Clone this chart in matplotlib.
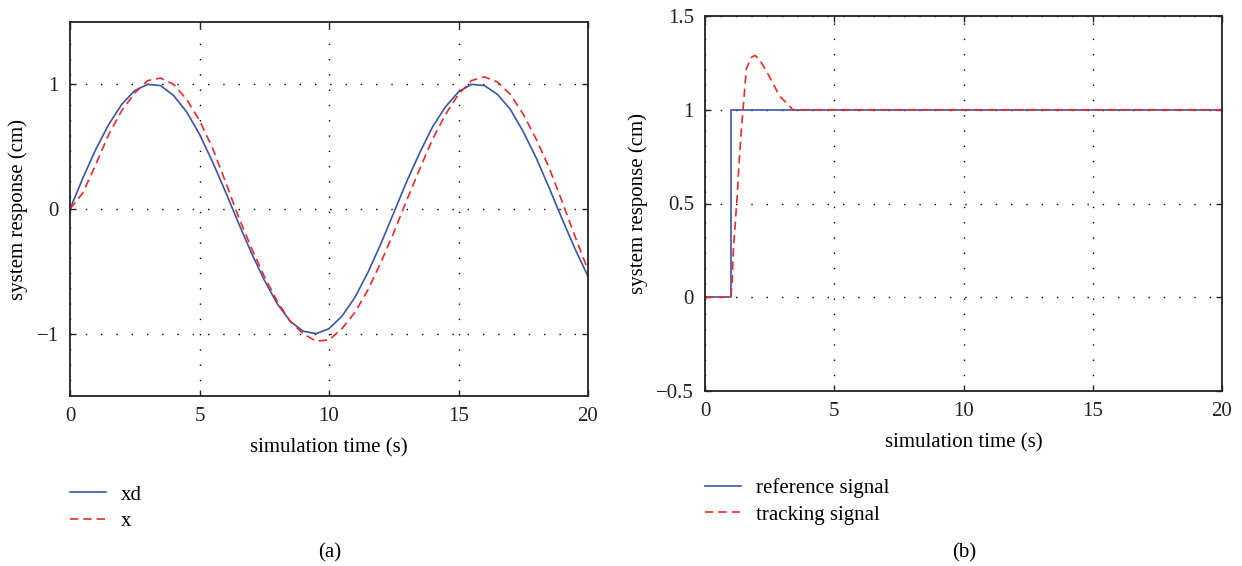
import matplotlib
matplotlib.use("Agg")
import matplotlib.pyplot as plt

plt.rcParams['font.family'] = ['Liberation Serif', 'DejaVu Serif']
plt.rcParams['axes.unicode_minus'] = True

# ---- panel (a) data: sinusoidal tracking ----
t_a = [0, 0.5, 1, 1.5, 2, 2.5, 3, 3.5, 4, 4.5, 5, 5.5, 6, 6.5, 7, 7.5, 8, 8.5, 9, 9.5,
       10, 10.5, 11, 11.5, 12, 12.5, 13, 13.5, 14, 14.5, 15, 15.5, 16, 16.5, 17, 17.5,
       18, 18.5, 19, 19.5, 20]
xd_vals = [0.0, 0.25, 0.48, 0.68, 0.84, 0.95, 1.0, 0.99, 0.91, 0.78, 0.6, 0.38, 0.14,
           -0.11, -0.35, -0.57, -0.76, -0.9, -0.98, -1.0, -0.96, -0.86, -0.71, -0.51,
           -0.28, -0.03, 0.22, 0.45, 0.66, 0.82, 0.94, 1.0, 0.99, 0.92, 0.8, 0.62, 0.41,
           0.17, -0.08, -0.32, -0.54]
x_vals = [0.0, 0.13, 0.36, 0.6, 0.79, 0.93, 1.03, 1.05, 1.0, 0.88, 0.71, 0.49, 0.22,
          -0.06, -0.31, -0.54, -0.74, -0.9, -1.0, -1.06, -1.05, -0.96, -0.83, -0.65,
          -0.43, -0.19, 0.07, 0.32, 0.56, 0.76, 0.92, 1.03, 1.06, 1.02, 0.92, 0.76, 0.56,
          0.33, 0.06, -0.22, -0.49]

# ---- panel (b) data: step response ----
t_ref = [0, 1, 1, 20]
ref_vals = [0, 0, 1, 1]
t_trk = [0, 1.0, 1.05, 1.1, 1.2, 1.25, 1.3, 1.4, 1.47, 1.6, 1.8, 1.93, 2.1, 2.4, 2.9,
         3.2, 3.4, 3.6, 20]
trk_vals = [0, 0, 0.08, 0.26, 0.45, 0.55, 0.68, 0.88, 1.0, 1.22, 1.28, 1.29, 1.27, 1.2,
            1.07, 1.03, 1.0, 1.0, 1.0]

W, H = 1242, 566
fig = plt.figure(figsize=(W / 100, H / 100), dpi=100)

BLUE = '#3a55a8'
RED = '#f02828'
FS = 15

def px_axes(l, t, r, b):
    return fig.add_axes([l / W, 1 - b / H, (r - l) / W, (b - t) / H])

def style(ax):
    for s in ax.spines.values():
        s.set_linewidth(1.3)
        s.set_color('#222222')
    ax.tick_params(direction='in', top=True, right=True, length=4, width=1,
                   labelsize=FS, colors='#222222', pad=8)
    ax.grid(True, color='black', linestyle=(0, (1, 10)), linewidth=1.0)
    ax.set_xlabel('simulation time (s)', fontsize=FS, labelpad=9)
    ax.set_ylabel('system response (cm)', fontsize=FS, labelpad=6)

ax1 = px_axes(70, 22, 588, 396)
l1, = ax1.plot(t_a, xd_vals, color=BLUE, lw=1.2, label='xd')
l2, = ax1.plot(t_a, x_vals, color=RED, lw=1.2, linestyle=(0, (5, 3)), label='x')
ax1.set_xlim(0, 20)
ax1.set_ylim(-1.5, 1.5)
ax1.set_xticks([0, 5, 10, 15, 20])
ax1.set_yticks([-1, 0, 1])
style(ax1)

ax2 = px_axes(705, 16, 1222, 391)
l3, = ax2.plot(t_ref, ref_vals, color=BLUE, lw=1.2, label='reference signal')
l4, = ax2.plot(t_trk, trk_vals, color=RED, lw=1.2, linestyle=(0, (5, 3)),
               label='tracking signal')
ax2.set_xlim(0, 20)
ax2.set_ylim(-0.5, 1.5)
ax2.set_xticks([0, 5, 10, 15, 20])
ax2.set_yticks([-0.5, 0, 0.5, 1, 1.5])
ax2.set_yticklabels(['\u22120.5', '0', '0.5', '1', '1.5'])
style(ax2)

leg_kw = dict(frameon=False, fontsize=FS, handlelength=1.75, handletextpad=0.7,
              labelspacing=0.35, borderpad=0, borderaxespad=0, loc='upper left')
fig.legend(handles=[l1, l2], bbox_to_anchor=(70 / W, 1 - 485 / H), **leg_kw)
fig.legend(handles=[l3, l4], bbox_to_anchor=(705 / W, 1 - 478 / H), **leg_kw)

fig.text(330 / W, 1 - 553 / H, '(a)', ha='center', va='center', fontsize=FS)
fig.text(964 / W, 1 - 553 / H, '(b)', ha='center', va='center', fontsize=FS)

fig.savefig('out.png', dpi=100)
